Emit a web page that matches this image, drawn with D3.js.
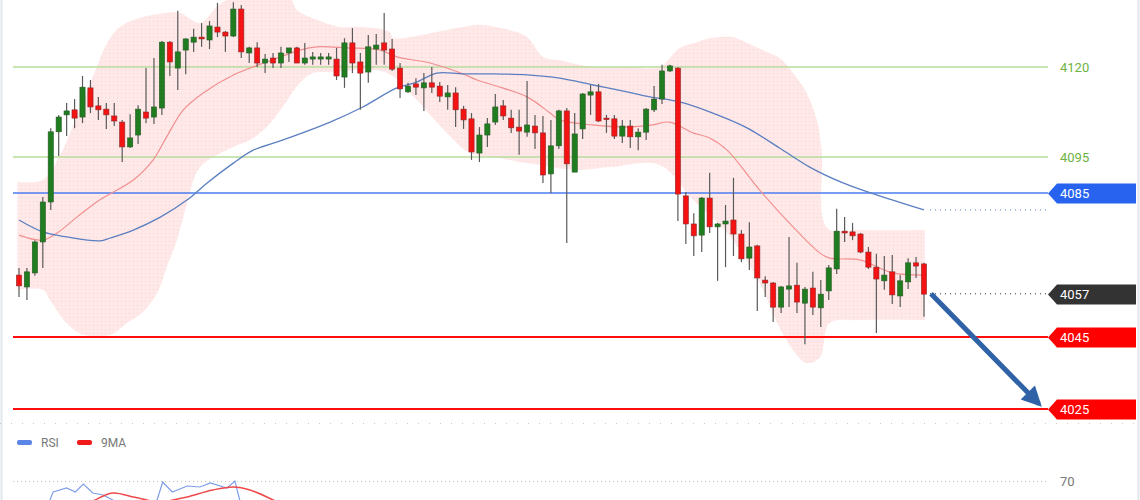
<!DOCTYPE html>
<html lang="en">
<head>
<meta charset="UTF-8">
<title>Candlestick chart with Bollinger bands</title>
<script src="https://d3js.org/d3.v7.min.js"></script>
<style>
  body { margin: 0; background: #fff; font-family: Roboto, Arial, sans-serif; }
  svg { display: block; }
  .lvl-label { font-size: 13px; }
  .legend text { font-size: 12px; fill: #777; }
</style>
</head>
<body>
<svg width="1140" height="500"></svg>
<script>
// candles (open, high, low, close)
const opens  = [4062.2,4058.9,4062.8,4071.4,4082.5,4102.0,4106.7,4108.1,4106.1,4114.2,4109.2,4108.3,4106.4,4104.7,4097.8,4101.1,4107.5,4106.1,4108.6,4126.9,4119.7,4124.7,4126.9,4128.3,4127.5,4131.1,4129.7,4128.6,4136.1,4123.9,4125.3,4121.1,4122.5,4121.1,4123.9,4125.3,4121.1,4122.2,4122.2,4122.2,4122.2,4117.2,4126.7,4121.4,4118.6,4125.0,4126.7,4125.0,4119.7,4113.1,4115.3,4114.2,4115.6,4114.7,4111.7,4112.8,4108.3,4105.6,4096.1,4101.1,4104.7,4109.2,4105.8,4103.3,4101.9,4103.6,4101.7,4090.3,4098.1,4107.8,4090.8,4102.8,4112.2,4113.1,4105.8,4105.6,4100.8,4103.6,4100.6,4101.9,4108.1,4111.1,4118.9,4119.7,4084.2,4076.4,4073.3,4083.6,4075.6,4076.4,4077.5,4073.6,4066.9,4070.3,4060.8,4060.0,4053.3,4058.3,4059.4,4054.4,4058.6,4053.1,4057.8,4063.9,4074.4,4074.2,4073.6,4068.6,4064.4,4060.6,4063.1,4056.4,4060.3,4065.6,4065.3];
const highs  = [4064.2,4064.2,4071.9,4083.9,4103.0,4106.7,4110.0,4111.1,4117.5,4116.4,4111.7,4110.0,4110.0,4105.3,4106.9,4109.4,4119.7,4122.5,4127.2,4127.2,4135.6,4128.0,4130.6,4132.2,4132.8,4137.8,4130.0,4138.0,4137.2,4125.6,4126.9,4123.6,4123.9,4125.6,4125.3,4125.6,4126.7,4124.2,4123.9,4123.9,4125.3,4128.0,4130.8,4123.9,4128.9,4129.2,4135.0,4127.8,4121.1,4115.6,4116.9,4118.3,4120.0,4115.8,4115.0,4114.4,4109.2,4107.2,4103.3,4105.8,4112.5,4110.8,4108.1,4108.1,4116.1,4106.7,4106.4,4105.3,4108.1,4108.6,4107.2,4112.8,4115.0,4115.3,4106.7,4106.7,4105.3,4105.3,4103.0,4108.6,4114.7,4120.6,4120.6,4119.9,4085.3,4079.4,4083.9,4090.6,4076.7,4081.7,4089.2,4074.7,4076.9,4070.6,4061.9,4060.3,4059.2,4072.8,4065.6,4058.9,4063.1,4060.8,4065.0,4080.6,4078.3,4076.7,4073.9,4070.0,4068.1,4067.5,4067.8,4062.2,4066.9,4067.2,4065.6];
const lows   = [4056.1,4055.3,4062.0,4064.2,4080.3,4095.3,4100.8,4103.0,4104.4,4107.2,4105.3,4102.8,4103.6,4093.6,4097.5,4098.6,4104.4,4104.2,4106.7,4117.5,4113.6,4118.0,4124.2,4125.6,4125.0,4128.3,4124.2,4128.3,4122.5,4121.1,4120.0,4118.3,4119.7,4119.7,4121.4,4121.1,4120.6,4120.6,4120.6,4120.6,4116.4,4114.2,4118.3,4108.1,4115.6,4120.6,4120.6,4118.9,4111.4,4112.8,4112.2,4107.8,4112.8,4110.3,4108.1,4103.3,4102.8,4094.2,4093.6,4097.8,4103.9,4105.3,4101.7,4095.6,4100.6,4097.2,4087.8,4085.0,4097.2,4071.1,4090.8,4100.0,4106.7,4104.7,4101.7,4100.0,4098.9,4097.5,4096.9,4099.7,4107.5,4109.7,4118.6,4077.2,4070.8,4067.5,4068.6,4073.9,4060.6,4064.4,4067.5,4065.8,4063.6,4052.2,4056.1,4049.2,4051.7,4053.3,4051.7,4043.0,4051.1,4047.8,4055.3,4062.5,4071.4,4071.9,4068.3,4063.9,4046.1,4058.1,4054.2,4053.3,4058.3,4061.4,4050.6];
const closes = [4059.2,4063.1,4071.4,4082.5,4102.0,4106.1,4107.8,4105.8,4114.4,4108.9,4108.1,4106.7,4105.0,4097.8,4100.3,4108.3,4105.8,4108.9,4126.9,4121.4,4124.2,4127.8,4128.3,4127.8,4131.4,4129.7,4128.6,4136.1,4124.2,4125.3,4121.1,4122.2,4121.1,4123.9,4125.3,4121.1,4122.5,4122.8,4122.8,4122.8,4117.5,4126.7,4121.1,4118.3,4125.6,4126.1,4124.7,4119.4,4113.9,4114.7,4114.4,4115.6,4114.4,4111.9,4112.8,4108.1,4105.3,4096.4,4101.1,4104.2,4108.9,4106.4,4103.1,4102.2,4103.9,4101.7,4090.0,4098.1,4107.8,4093.1,4101.4,4112.5,4113.1,4105.0,4105.6,4100.8,4103.6,4100.6,4101.9,4108.3,4111.1,4118.9,4120.3,4084.7,4076.4,4073.1,4083.6,4075.6,4076.4,4077.2,4073.6,4066.7,4070.0,4061.4,4060.0,4053.3,4058.9,4059.2,4054.7,4058.3,4053.3,4056.9,4064.2,4074.4,4073.9,4073.1,4068.6,4064.4,4061.1,4062.2,4056.7,4060.6,4065.6,4064.7,4056.9];

// Bollinger band and moving averages, sampled as [candle index, price]
const bandUpper = [[-0.2,4088.1],[3,4088.6],[5.2,4095.6],[7.1,4105.3],[8.9,4115.0],[9.8,4120.0],[11.1,4126.7],[12.7,4131.1],[15.2,4133.6],[18.6,4135.0],[20.3,4135.0],[22.8,4132.2],[24.9,4136.7],[26.2,4138.6],[30.4,4140.5],[34.1,4139.2],[35.0,4135.8],[37.5,4133.1],[40.4,4131.1],[43.3,4131.1],[46.7,4129.7],[47.1,4128.1],[51.8,4129.4],[55.9,4131.1],[58.1,4131.7],[61.8,4130.3],[64.0,4128.3],[66.0,4122.8],[68.1,4121.9],[72.3,4120.0],[76.6,4120.0],[80.7,4120.0],[83.2,4125.3],[85.4,4126.9],[87.4,4128.1],[89.9,4128.3],[91.7,4126.7],[94.2,4124.2],[95.8,4122.5],[97.5,4118.3],[99.2,4112.8],[100.5,4105.3],[101.1,4096.9],[101.8,4075.3],[105.9,4074.7],[114.1,4074.7]];
const bandLower = [[-0.2,4058.1],[3,4058.1],[3.9,4055.3],[6.0,4048.9],[8.1,4045.6],[11.5,4045.6],[13.6,4048.9],[15.6,4051.9],[17.4,4057.2],[18.6,4064.4],[19.9,4071.9],[20.7,4078.3],[21.3,4083.1],[22.8,4092.2],[27.0,4097.8],[29.1,4099.7],[31.2,4103.3],[33.2,4108.9],[35.4,4115.6],[37.0,4118.3],[39.2,4118.6],[46.1,4118.6],[50.1,4110.8],[53.9,4101.7],[56.8,4096.1],[59.7,4095.0],[64.0,4093.3],[70.3,4091.4],[74.4,4092.2],[80.7,4092.8],[84.9,4083.1],[89.2,4073.9],[93.3,4060.0],[95.5,4048.9],[97.5,4041.4],[99.2,4037.8],[100.9,4039.4],[102.1,4048.9],[105.9,4049.7],[114.1,4049.7]];
const bandMiddle = [[0,4073.3],[3,4071.9],[4.8,4073.9],[7.3,4078.3],[10.2,4083.1],[14.4,4088.6],[16.9,4094.2],[18.6,4100.6],[20.7,4108.1],[23.2,4112.8],[27.0,4117.8],[31.2,4121.4],[35.4,4124.7],[37.5,4125.6],[41.3,4125.3],[45.5,4124.7],[47.6,4122.8],[51.8,4121.1],[55.9,4118.1],[57.7,4116.4],[59.7,4115.0],[64.0,4111.7],[66.9,4107.2],[68.1,4105.3],[72.3,4103.9],[76.6,4103.3],[79.8,4103.9],[81.9,4104.7],[84.9,4101.7],[87.0,4100.3],[89.2,4096.9],[93.3,4085.8],[97.5,4075.6],[100.9,4068.3],[102.1,4066.9],[105.9,4066.4],[110.1,4062.8],[114,4062.2]];
const maSlow = [[0,4077.5],[3,4074.2],[6.0,4072.8],[10.2,4071.7],[11.5,4072.5],[14.4,4074.7],[17.8,4078.3],[21.2,4083.1],[23.7,4087.8],[27.0,4093.3],[29.5,4096.9],[33.2,4099.7],[39.2,4104.7],[43.3,4108.9],[47.6,4114.2],[50.1,4115.8],[52.6,4118.3],[55.9,4118.1],[59.7,4118.1],[64.0,4117.8],[68.1,4116.9],[72.3,4115.0],[76.6,4113.1],[79.5,4111.7],[83.2,4110.3],[87.4,4107.2],[91.7,4103.1],[95.8,4097.5],[99.6,4092.2],[103.8,4087.8],[108.1,4084.4],[114,4080.3]];

// price levels
const greenLevels = [4120, 4095];
const blueLevels = [4085];
const redLevels = [4045, 4025];
const lastPrice = 4057;
const targetPrice = 4025;

// lower panel
const rsiTick = 70;
const rsiLine = [[3.0,57],[3.9,60.5],[4.3,64.5],[6.0,66.5],[7.1,64.5],[8.1,68.5],[9.3,64],[10.6,63],[11.8,60.5],[14.0,56],[17.4,60.5],[18.1,69.5],[19.3,64.5],[21.2,67.5],[22.8,67],[24.1,69],[26.2,66.5],[27.2,70],[27.8,60.5],[29.0,55]];
const rsiMa = [[7.7,55.5],[9.6,60.5],[11.8,64],[14.4,62],[16.1,60.5],[17.8,59],[19.4,60.5],[21.2,62],[24.4,65.5],[27.0,67],[29.1,65.5],[32.0,60.5],[34.3,55.5]];
const legendItems = ["RSI", "9MA"];

const svg = d3.select("svg");
const W = 1140, H = 500;

const x = d3.scaleLinear().domain([0, opens.length - 1]).range([19, 924]);
const y = d3.scaleLinear().domain([4025, 4120]).range([409, 67]);
const ry = d3.scaleLinear().domain([60, 70]).range([501, 481]);

const lineLeft = 13, lineRight = 1048;

const defs = svg.append("defs");
const pat = defs.append("pattern").attr("id", "dots")
  .attr("width", 4).attr("height", 4).attr("patternUnits", "userSpaceOnUse");
pat.append("rect").attr("width", 4).attr("height", 4).attr("fill", "#fee8e8");
pat.append("rect").attr("x", 1).attr("y", 1).attr("width", 1).attr("height", 1).attr("fill", "#f8d2d2");
defs.append("clipPath").attr("id", "mainClip")
  .append("rect").attr("x", 0).attr("y", 0).attr("width", W).attr("height", 423);

const marker = defs.append("marker").attr("id", "arrowHead")
  .attr("viewBox", "0 0 10 10").attr("refX", 8).attr("refY", 5)
  .attr("markerWidth", 4.5).attr("markerHeight", 4).attr("orient", "auto");
marker.append("path").attr("d", "M0,0 L10,5 L0,10 Z").attr("fill", "#2f62a6");

// frame
svg.append("line").attr("x1", 1.5).attr("x2", 1.5).attr("y1", 0).attr("y2", H)
  .attr("stroke", "#dfe7ec").attr("stroke-width", 2);
svg.append("line").attr("x1", 1138.5).attr("x2", 1138.5).attr("y1", 0).attr("y2", H)
  .attr("stroke", "#dfe7ec").attr("stroke-width", 2);

const main = svg.append("g").attr("clip-path", "url(#mainClip)");

// band: upper edge left to right, lower edge back, straight ends
const bandLine = d3.line().x(d => x(d[0])).y(d => y(d[1])).curve(d3.curveCatmullRom.alpha(0.5));
const bandPath = bandLine(bandUpper) + "L" + bandLine(bandLower.slice().reverse()).slice(1) + "Z";
main.append("path").attr("d", bandPath).attr("fill", "url(#dots)");

// levels
greenLevels.forEach(v => {
  main.append("line").attr("x1", lineLeft).attr("x2", lineRight)
    .attr("y1", y(v)).attr("y2", y(v)).attr("stroke", "#b7dc9c").attr("stroke-width", 1.5);
  svg.append("text").attr("class", "lvl-label").attr("x", 1060).attr("y", y(v)).attr("dy", "0.36em")
    .attr("fill", "#6db33f").text(v);
});
blueLevels.forEach(v => {
  main.append("line").attr("x1", lineLeft).attr("x2", lineRight)
    .attr("y1", y(v)).attr("y2", y(v)).attr("stroke", "#4a7ef0").attr("stroke-width", 1.5);
});
redLevels.forEach(v => {
  main.append("line").attr("x1", lineLeft).attr("x2", lineRight)
    .attr("y1", y(v)).attr("y2", y(v)).attr("stroke", "#ff0d0d").attr("stroke-width", 2);
});

// moving averages
const smooth = d3.line().x(d => x(d[0])).y(d => y(d[1])).curve(d3.curveCatmullRom.alpha(0.5));
main.append("path").attr("d", smooth(bandMiddle)).attr("fill", "none")
  .attr("stroke", "#f29090").attr("stroke-width", 1.2);
main.append("path").attr("d", smooth(maSlow)).attr("fill", "none")
  .attr("stroke", "#5b7fc0").attr("stroke-width", 1.3);

// candles
const candles = opens.map((o, i) => ({i, o, h: highs[i], l: lows[i], c: closes[i]}));
const cg = main.append("g");
cg.selectAll(".wick").data(candles).join("line")
  .attr("x1", d => x(d.i)).attr("x2", d => x(d.i))
  .attr("y1", d => y(d.h)).attr("y2", d => y(d.l))
  .attr("stroke", "#5a5a5a").attr("stroke-width", 1.2);
cg.selectAll(".body").data(candles).join("rect")
  .attr("x", d => x(d.i) - 2.6).attr("width", 5.2)
  .attr("y", d => y(Math.max(d.o, d.c)))
  .attr("height", d => Math.max(1.5, Math.abs(y(d.o) - y(d.c))))
  .attr("fill", d => d.c >= d.o ? "#1f7d1f" : "#f51212")
  .attr("stroke", d => d.c >= d.o ? "#285a28" : "#8c2a2a").attr("stroke-width", 0.6);

// dotted extensions
const last = candles[candles.length - 1];
const lastMa = maSlow[maSlow.length - 1];
svg.append("line").attr("x1", x(lastMa[0]) + 6).attr("x2", lineRight)
  .attr("y1", y(lastMa[1])).attr("y2", y(lastMa[1]))
  .attr("stroke", "#5b7fc0").attr("stroke-dasharray", "1,4");
svg.append("line").attr("x1", x(last.i) + 6).attr("x2", lineRight)
  .attr("y1", y(lastPrice)).attr("y2", y(lastPrice))
  .attr("stroke", "#333").attr("stroke-dasharray", "1,4");

// tags
const tag = (v, color) => {
  const yy = Math.round(y(v)) + 0.5;
  svg.append("path")
    .attr("d", `M${lineRight},${yy} L${lineRight + 9},${yy - 10} L1136,${yy - 10} L1136,${yy + 10} L${lineRight + 9},${yy + 10} Z`)
    .attr("fill", color);
  svg.append("text").attr("class", "lvl-label").attr("x", 1060).attr("y", yy).attr("dy", "0.36em")
    .attr("fill", "#fff").text(v);
};
blueLevels.forEach(v => tag(v, "#2763ee"));
tag(lastPrice, "#333333");
redLevels.forEach(v => tag(v, "#ff0000"));

// arrow from the last close down to the target level
svg.append("line")
  .attr("x1", x(last.i) + 7).attr("y1", y(lastPrice))
  .attr("x2", lineRight - 9).attr("y2", y(targetPrice) - 5)
  .attr("stroke", "#2f62a6").attr("stroke-width", 5)
  .attr("marker-end", "url(#arrowHead)");

// lower panel
svg.append("line").attr("x1", 0).attr("x2", W).attr("y1", 423.5).attr("y2", 423.5)
  .attr("stroke", "#c8c8c8").attr("stroke-dasharray", "1,10");
const legend = svg.append("g").attr("class", "legend");
const legendColors = ["#5b86e8", "#f01a1a"];
legendItems.forEach((name, k) => {
  const lx = 17 + k * 60;
  legend.append("rect").attr("x", lx).attr("y", 440).attr("width", 15).attr("height", 5)
    .attr("rx", 2).attr("fill", legendColors[k]);
  legend.append("text").attr("x", lx + 24).attr("y", 447).text(name);
});
svg.append("line").attr("x1", lineLeft).attr("x2", lineRight)
  .attr("y1", ry(rsiTick) + 0.5).attr("y2", ry(rsiTick) + 0.5)
  .attr("stroke", "#c0c0c0").attr("stroke-dasharray", "1,3");
svg.append("text").attr("class", "lvl-label").attr("x", 1060).attr("y", ry(rsiTick)).attr("dy", "0.36em")
  .attr("fill", "#777").text(rsiTick);

const rsiPath = d3.line().x(d => x(d[0])).y(d => ry(d[1]));
svg.append("path").attr("d", rsiPath.curve(d3.curveLinear)(rsiLine)).attr("fill", "none")
  .attr("stroke", "#7f9ee8").attr("stroke-width", 1.2);
svg.append("path").attr("d", rsiPath.curve(d3.curveCatmullRom.alpha(0.5))(rsiMa)).attr("fill", "none")
  .attr("stroke", "#ee4a4a").attr("stroke-width", 1.5);
</script>
</body>
</html>
